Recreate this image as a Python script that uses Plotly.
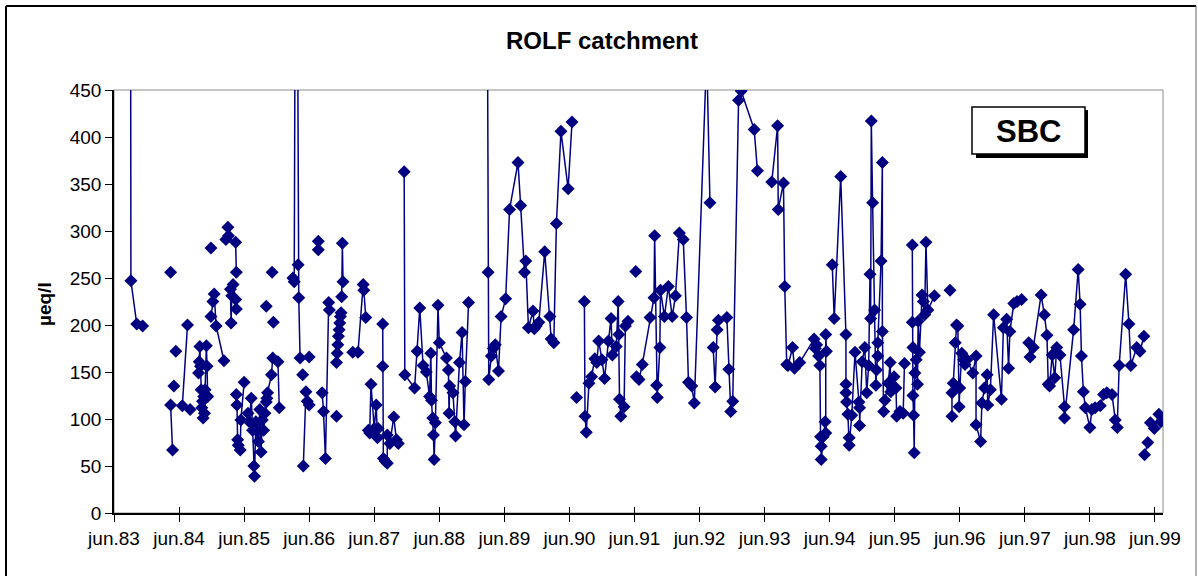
import plotly.graph_objects as go

# ---------------- data (decimal years, SBC in µeq/l); each inner list is a connected run ----------------
sbc_1983_1987 = [
    [(1983.75, 900), (1983.76, 247), (1983.85, 201), (1983.94, 199)],
    [(1984.37, 256)],
    [(1984.37, 115), (1984.40, 67)],
    [(1984.42, 135)],
    [(1984.45, 172)],
    [(1984.55, 114), (1984.63, 200)],
    [(1984.67, 110)],
    [(1984.80, 149), (1984.81, 161), (1984.82, 177), (1984.83, 156), (1984.84, 131), (1984.85, 112),
     (1984.86, 119), (1984.87, 101), (1984.88, 124), (1984.89, 106), (1984.90, 131), (1984.92, 178),
     (1984.93, 156), (1984.94, 124)],
    [(1984.99, 282)],
    [(1984.99, 209), (1985.02, 225), (1985.04, 233), (1985.07, 199), (1985.19, 162)],
    [(1985.22, 291), (1985.25, 304), (1985.26, 295)],
    [(1985.29, 238), (1985.30, 202), (1985.31, 231), (1985.33, 243), (1985.37, 227), (1985.38, 217)],
    [(1985.37, 288), (1985.38, 256)],
    [(1985.38, 126), (1985.39, 115), (1985.40, 78), (1985.41, 72), (1985.44, 67), (1985.45, 99), (1985.50, 139)],
    [(1985.56, 106), (1985.58, 97), (1985.61, 122), (1985.63, 88), (1985.65, 50), (1985.66, 39),
     (1985.68, 97), (1985.70, 87), (1985.72, 76), (1985.74, 110), (1985.76, 65), (1985.78, 99),
     (1985.80, 88), (1985.82, 106), (1985.84, 118), (1985.85, 122)],
    [(1985.84, 220)],
    [(1985.93, 256)],
    [(1985.95, 203)],
    [(1985.86, 128), (1985.92, 147), (1985.94, 165), (1986.02, 161), (1986.04, 112)],
    [(1986.25, 250), (1986.27, 246), (1986.30, 900), (1986.33, 264), (1986.34, 229), (1986.36, 165)],
    [(1986.40, 147)],
    [(1986.41, 50), (1986.45, 129), (1986.47, 119), (1986.50, 115)],
    [(1986.50, 166)],
    [(1986.64, 289), (1986.64, 280)],
    [(1986.70, 128), (1986.72, 108), (1986.75, 58), (1986.80, 224), (1986.81, 216)],
    [(1986.92, 103)],
    [(1986.92, 160), (1986.93, 170), (1986.94, 179), (1986.95, 188), (1986.96, 195), (1986.97, 202),
     (1986.98, 209), (1986.99, 213)],
    [(1987.00, 230), (1987.01, 287), (1987.02, 246)],
    [(1987.17, 171), (1987.25, 171), (1987.33, 243), (1987.34, 237), (1987.37, 208)],
    [(1987.41, 88), (1987.43, 85), (1987.45, 137), (1987.50, 90), (1987.53, 115), (1987.55, 80), (1987.56, 90)],
    [(1987.63, 201), (1987.63, 156), (1987.64, 58), (1987.67, 55), (1987.70, 53), (1987.70, 83),
     (1987.74, 74), (1987.80, 102), (1987.84, 78), (1987.87, 74)],
]

sbc_1988_1991 = [
    [(1987.96, 363), (1987.97, 147), (1988.12, 133), (1988.16, 172), (1988.20, 218), (1988.25, 157),
     (1988.30, 150), (1988.35, 124), (1988.37, 170), (1988.38, 120), (1988.40, 101), (1988.41, 83),
     (1988.42, 57), (1988.44, 96), (1988.48, 221), (1988.50, 181), (1988.61, 165), (1988.64, 152),
     (1988.65, 106), (1988.66, 135), (1988.71, 128), (1988.74, 97), (1988.75, 82), (1988.81, 160),
     (1988.85, 192), (1988.88, 94), (1988.90, 140), (1988.95, 224)],
    [(1989.22, 900), (1989.25, 256), (1989.26, 142), (1989.30, 167), (1989.33, 175), (1989.36, 179),
     (1989.41, 151), (1989.45, 209), (1989.52, 228), (1989.58, 323), (1989.71, 373), (1989.75, 327),
     (1989.81, 256), (1989.83, 268), (1989.87, 197), (1989.94, 215), (1989.96, 196), (1989.99, 199),
     (1990.03, 203), (1990.12, 278), (1990.20, 209), (1990.22, 185), (1990.26, 181), (1990.30, 308),
     (1990.37, 406), (1990.48, 345), (1990.54, 416)],
    [(1990.61, 123)],
    [(1990.73, 225), (1990.74, 103), (1990.76, 86), (1990.80, 138), (1990.84, 145), (1990.89, 164),
     (1990.92, 160), (1990.95, 183), (1991.00, 163), (1991.04, 143), (1991.10, 183), (1991.14, 207),
     (1991.16, 168), (1991.22, 177), (1991.25, 225), (1991.26, 190), (1991.27, 121), (1991.29, 103),
     (1991.34, 113), (1991.36, 199), (1991.40, 204)],
    [(1991.52, 257)],
    [(1991.53, 145), (1991.57, 142), (1991.62, 158), (1991.74, 208), (1991.80, 229), (1991.81, 295),
     (1991.84, 136), (1991.85, 123), (1991.89, 176), (1991.90, 237), (1991.96, 209), (1992.02, 241),
     (1992.08, 209), (1992.13, 231), (1992.19, 298), (1992.25, 291), (1992.30, 208), (1992.33, 139),
     (1992.38, 135), (1992.42, 117), (1992.61, 490), (1992.66, 330)],
]

sbc_1992_1995 = [
    [(1992.71, 176), (1992.74, 134), (1992.77, 195), (1992.79, 205), (1992.92, 208), (1992.95, 153),
     (1992.98, 108), (1993.01, 119), (1993.10, 439), (1993.14, 449), (1993.34, 408), (1993.39, 364)],
    [(1993.61, 352), (1993.70, 412), (1993.71, 323), (1993.79, 351), (1993.81, 241), (1993.84, 158),
     (1993.86, 157), (1993.93, 176), (1993.96, 154), (1994.04, 160), (1994.26, 185), (1994.28, 175),
     (1994.30, 179), (1994.33, 167), (1994.35, 157), (1994.36, 81), (1994.37, 71), (1994.37, 57),
     (1994.40, 81), (1994.43, 97), (1994.44, 85), (1994.44, 190), (1994.45, 172)],
    [(1994.54, 264), (1994.57, 207), (1994.67, 358), (1994.75, 190), (1994.75, 137), (1994.75, 128),
     (1994.76, 118), (1994.78, 105), (1994.80, 80), (1994.80, 72), (1994.84, 104), (1994.89, 171),
     (1994.95, 118), (1994.96, 112), (1994.96, 93), (1995.00, 161), (1995.04, 176), (1995.07, 128),
     (1995.10, 157), (1995.12, 254), (1995.13, 207), (1995.14, 417), (1995.16, 330), (1995.19, 216),
     (1995.21, 136), (1995.22, 152), (1995.24, 167), (1995.24, 181), (1995.29, 268), (1995.31, 373),
     (1995.31, 193), (1995.33, 108), (1995.35, 120), (1995.40, 138), (1995.43, 160), (1995.44, 129),
     (1995.49, 145), (1995.52, 133), (1995.53, 103), (1995.58, 108), (1995.63, 106), (1995.65, 159)],
    [(1995.77, 285), (1995.77, 203), (1995.78, 176), (1995.78, 125), (1995.79, 104), (1995.80, 64),
     (1995.81, 149), (1995.83, 163), (1995.85, 137), (1995.86, 204), (1995.88, 171), (1995.92, 232),
     (1995.94, 225), (1995.96, 211), (1995.98, 288), (1996.01, 216), (1996.11, 231)],
]

sbc_1996_1999 = [
    [(1996.35, 237)],
    [(1996.38, 103), (1996.38, 128), (1996.40, 138), (1996.43, 181), (1996.45, 200), (1996.47, 199),
     (1996.49, 113), (1996.50, 133), (1996.53, 170), (1996.56, 163), (1996.58, 158), (1996.61, 163),
     (1996.70, 149), (1996.75, 167), (1996.75, 94), (1996.82, 76), (1996.84, 117), (1996.88, 133),
     (1996.92, 147), (1996.93, 115), (1996.97, 131), (1997.02, 211), (1997.14, 121), (1997.17, 197),
     (1997.22, 206), (1997.25, 154), (1997.27, 193), (1997.33, 223), (1997.38, 225)],
    [(1997.45, 227)],
    [(1997.56, 181), (1997.58, 166), (1997.63, 176), (1997.75, 232), (1997.80, 211), (1997.84, 189),
     (1997.86, 137), (1997.88, 135), (1997.92, 168), (1997.96, 144), (1997.99, 176), (1998.04, 168),
     (1998.11, 113), (1998.11, 101), (1998.25, 195), (1998.32, 259), (1998.35, 222), (1998.37, 167),
     (1998.40, 129), (1998.43, 112), (1998.50, 91), (1998.53, 110), (1998.58, 112), (1998.66, 114),
     (1998.71, 126), (1998.76, 128), (1998.84, 126), (1998.89, 99), (1998.92, 91), (1998.95, 157),
     (1999.05, 254), (1999.10, 201), (1999.13, 157), (1999.22, 176), (1999.27, 172), (1999.33, 188)],
    [(1999.34, 62), (1999.39, 75)],
    [(1999.43, 96), (1999.49, 90), (1999.56, 105), (1999.59, 97)],
]

tick_years = [1983.5 + i for i in range(17)]
tick_labels = ["jun.%02d" % (83 + i) for i in range(17)]
y_ticks = list(range(0, 451, 50))

# ---------------- build series with gaps ----------------
xs, ys = [], []
for period in (sbc_1983_1987, sbc_1988_1991, sbc_1992_1995, sbc_1996_1999):
    for seg in period:
        for t, v in seg:
            xs.append(t)
            ys.append(v)
        xs.append(None)
        ys.append(None)

NAVY = "#000080"
FONT = "Liberation Sans, Arial, sans-serif"

fig = go.Figure()
fig.add_trace(go.Scatter(
    x=xs, y=ys, mode="lines+markers", connectgaps=False,
    line=dict(color=NAVY, width=1.5),
    marker=dict(symbol="diamond", size=10, color=NAVY, line=dict(width=0)),
    showlegend=False, hoverinfo="skip",
))
# helper trace for the inner half of the crossing x ticks
fig.add_trace(go.Scatter(x=[None], y=[None], xaxis="x2", showlegend=False, hoverinfo="skip"))

W, H = 1198, 576
L, R, T, B = 114, 1163, 90, 513  # plot area in pixels


def px(xp):
    return (xp - L) / (R - L)


def py(yp):
    return (B - yp) / (B - T)


xr = [1983.5, 1983.5 + (R - L) / 65.06]

fig.update_layout(
    width=W, height=H,
    margin=dict(l=L, r=W - R, t=T, b=H - B, pad=0),
    paper_bgcolor="white", plot_bgcolor="white",
    font=dict(family=FONT, size=19, color="black"),
    xaxis=dict(range=xr, tickmode="array", tickvals=tick_years, ticktext=tick_labels,
               ticks="outside", ticklen=7, tickwidth=1, tickcolor="black",
               showline=True, linecolor="black", linewidth=1.5,
               showgrid=False, zeroline=False, tickfont=dict(size=19)),
    xaxis2=dict(range=xr, overlaying="x", anchor="y", side="bottom",
                tickmode="array", tickvals=tick_years, showticklabels=False,
                ticks="inside", ticklen=6, tickwidth=1, tickcolor="black",
                showline=False, showgrid=False, zeroline=False),
    yaxis=dict(range=[0, 450], tickmode="array", tickvals=y_ticks,
               ticks="outside", ticklen=7, tickwidth=1, tickcolor="black",
               showline=True, linecolor="black", linewidth=1.5,
               showgrid=False, zeroline=False, tickfont=dict(size=19)),
)

shapes = [
    # plot-area border (grey top/right)
    dict(type="rect", xref="paper", yref="paper", x0=0, x1=1, y0=0, y1=1,
         line=dict(color="#8c8c8c", width=1), layer="below"),
    # outer chart frame
    dict(type="line", xref="paper", yref="paper", x0=px(6), x1=px(6), y0=py(6), y1=py(590),
         line=dict(color="black", width=2)),
    dict(type="line", xref="paper", yref="paper", x0=px(6), x1=px(1196), y0=py(6), y1=py(6),
         line=dict(color="black", width=2)),
    dict(type="line", xref="paper", yref="paper", x0=px(1196), x1=px(1196), y0=py(6), y1=py(590),
         line=dict(color="#666666", width=1)),
    # SBC box shadow + box
    dict(type="rect", xref="paper", yref="paper", x0=px(976), x1=px(1088), y0=py(158), y1=py(110),
         fillcolor="black", line=dict(width=0)),
    dict(type="rect", xref="paper", yref="paper", x0=px(972), x1=px(1085), y0=py(154), y1=py(107),
         fillcolor="white", line=dict(color="black", width=1.5)),
]
fig.update_layout(shapes=shapes)

fig.add_annotation(text="<b>ROLF catchment</b>", xref="paper", yref="paper",
                   x=px(602), y=py(41), showarrow=False, xanchor="center", yanchor="middle",
                   font=dict(size=24, family=FONT, color="black"))
fig.add_annotation(text="<b>µeq/l</b>", xref="paper", yref="paper",
                   x=px(44), y=py(304), showarrow=False, textangle=-90,
                   xanchor="center", yanchor="middle",
                   font=dict(size=19, family=FONT, color="black"))
fig.add_annotation(text="<b>SBC</b>", xref="paper", yref="paper",
                   x=px(1028.5), y=py(131), showarrow=False, xanchor="center", yanchor="middle",
                   font=dict(size=31, family=FONT, color="black"))

fig.write_html("out.html", config={"displayModeBar": False},
               post_script="document.body.style.margin='0';document.body.style.overflow='hidden';")
